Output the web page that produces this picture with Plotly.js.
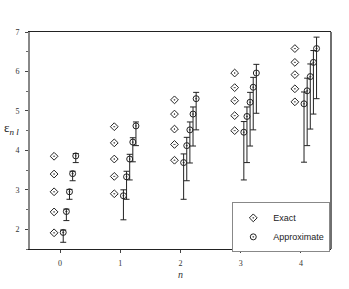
<!DOCTYPE html>
<html>
<head>
<meta charset="utf-8">
<script src="https://cdn.plot.ly/plotly-3.0.1.min.js"></script>
<style>html,body{margin:0;padding:0;background:#fff;}#plot{width:349px;height:289px;}</style>
</head>
<body>
<div id="plot"></div>
<script>
// principal quantum number groups
const nValues = [0, 1, 2, 3, 4];
// exact energies, one row per n (l = 0..4)
const exactE = [
  [1.91, 2.44, 2.95, 3.40, 3.85],
  [2.90, 3.34, 3.78, 4.19, 4.60],
  [3.75, 4.15, 4.54, 4.92, 5.28],
  [4.50, 4.88, 5.26, 5.59, 5.96],
  [5.23, 5.56, 5.92, 6.23, 6.58]
];
// approximate energies
const approxE = [
  [1.92, 2.45, 2.95, 3.41, 3.86],
  [2.85, 3.33, 3.78, 4.21, 4.62],
  [3.69, 4.12, 4.52, 4.92, 5.31],
  [4.46, 4.86, 5.22, 5.60, 5.96],
  [5.18, 5.51, 5.87, 6.23, 6.58]
];
const approxErrPlus = [
  [0.06, 0.06, 0.06, 0.06, 0.06],
  [0.15, 0.14, 0.12, 0.11, 0.10],
  [0.22, 0.21, 0.20, 0.18, 0.16],
  [0.27, 0.24, 0.25, 0.25, 0.22],
  [0.30, 0.32, 0.32, 0.30, 0.29]
];
const approxErrMinus = [
  [0.25, 0.23, 0.19, 0.18, 0.17],
  [0.61, 0.57, 0.53, 0.50, 0.50],
  [0.93, 0.89, 0.84, 0.81, 0.79],
  [1.21, 1.17, 1.11, 1.08, 1.02],
  [1.48, 1.39, 1.33, 1.31, 1.27]
];
const xTickLabels = ['0', '1', '2', '3', '4'];
const yTickValues = [2, 3, 4, 5, 6, 7];
const seriesNames = ['Exact', 'Approximate'];

const exX = [], exY = [], apX = [], apY = [], apP = [], apM = [];
nValues.forEach((n, i) => {
  exactE[i].forEach((v) => { exX.push(n - 0.1); exY.push(v); });
  approxE[i].forEach((v, l) => {
    apX.push(n + 0.052 * (l + 1));
    apY.push(v);
    apP.push(approxErrPlus[i][l]);
    apM.push(approxErrMinus[i][l]);
  });
});

const markerLine = {color: '#222', width: 1};
const traces = [
  {
    x: exX, y: exY, type: 'scatter', mode: 'markers', name: seriesNames[0],
    marker: {symbol: 'diamond-open-dot', size: 6, color: '#222', line: markerLine}
  },
  {
    x: apX, y: apY, type: 'scatter', mode: 'markers', name: seriesNames[1],
    marker: {symbol: 'circle-open-dot', size: 6, color: '#222', line: markerLine},
    error_y: {type: 'data', symmetric: false, array: apP, arrayminus: apM,
              color: '#222', thickness: 1, width: 3}
  }
];

const layout = {
  width: 349, height: 289,
  margin: {l: 30, r: 18, t: 32, b: 40},
  paper_bgcolor: '#fff', plot_bgcolor: '#fff',
  showlegend: true,
  font: {family: 'Liberation Serif, serif', size: 8, color: '#222'},
  xaxis: {
    range: [-0.5, 4.5], tickvals: nValues, ticktext: xTickLabels,
    ticks: 'outside', ticklen: 3, tickcolor: '#444', ticklabelstandoff: 3,
    showgrid: false, zeroline: false,
    showline: true, linecolor: '#222', linewidth: 1.3, mirror: true,
    tickfont: {family: 'Liberation Serif, serif', size: 8, color: '#333'},
    title: {text: '<i>n</i>', font: {family: 'Liberation Serif, serif', size: 10, color: '#333'}, standoff: 4}
  },
  yaxis: {
    range: [1.5, 7], tickvals: yTickValues,
    ticks: 'outside', ticklen: 3, tickcolor: '#444', ticklabelstandoff: 4,
    minor: {dtick: 0.5, ticks: 'outside', ticklen: 2, tickcolor: '#666'},
    showgrid: false, zeroline: false,
    showline: true, linecolor: '#888', linewidth: 2,
    tickfont: {family: 'Liberation Serif, serif', size: 8, color: '#333'}
  },
  shapes: [
    {type: 'line', xref: 'paper', yref: 'paper', x0: 1, x1: 1, y0: 0, y1: 1,
     line: {color: '#222', width: 1.3}}
  ],
  annotations: [
    {xref: 'paper', yref: 'paper', x: -0.093, y: 0.555, xanchor: 'left', yanchor: 'middle',
     showarrow: false, text: 'ε<sub><i>n l</i></sub>',
     font: {family: 'Liberation Serif, serif', size: 13, color: '#222'}}
  ],
  legend: {
    x: 0.672, y: 0.215, xanchor: 'left', yanchor: 'top',
    bordercolor: '#888', borderwidth: 1, bgcolor: '#fff',
    font: {family: 'Liberation Sans, Arial, sans-serif', size: 9, color: '#222'},
    itemwidth: 30, tracegroupgap: 0
  }
};

Plotly.newPlot('plot', traces, layout, {staticPlot: true, displayModeBar: false});
</script>
</body>
</html>
